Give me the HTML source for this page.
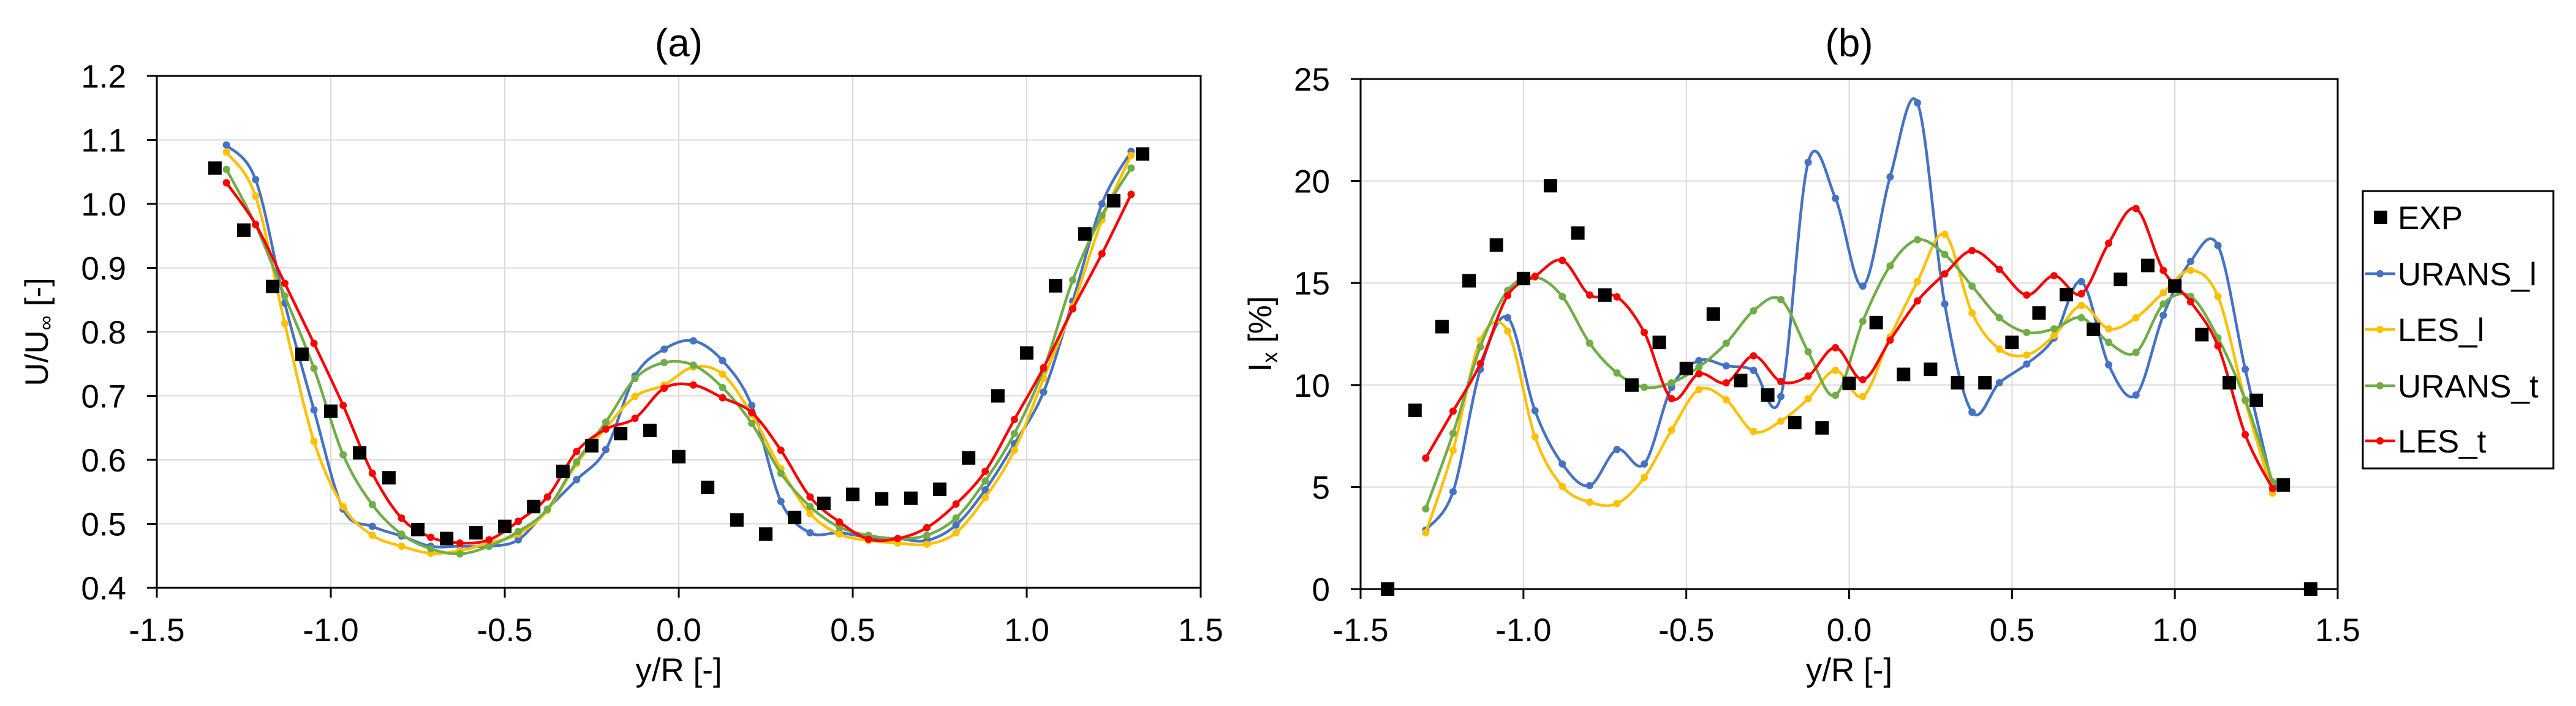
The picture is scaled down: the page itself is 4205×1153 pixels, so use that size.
<!DOCTYPE html>
<html><head><meta charset="utf-8"><style>
html,body{margin:0;padding:0;background:#fff}
svg{display:block;font-family:"Liberation Sans",Arial,sans-serif}
</style></head><body>
<svg id="chart" xmlns="http://www.w3.org/2000/svg" width="4205" height="1153" viewBox="0 0 4205 1153">
<rect x="0" y="0" width="4205" height="1153" fill="#fff"/>
</svg>
<script>
// shared x-grid for simulation series
const simX = Array.from({length:32},(_,i)=>-1.3+i*2.6/31);
const expXa = [-1.333,-1.25,-1.167,-1.083,-1.0,-0.917,-0.833,-0.75,-0.667,-0.583,-0.5,-0.417,-0.333,-0.25,-0.167,-0.083,0,0.083,0.167,0.25,0.333,0.417,0.5,0.583,0.667,0.75,0.833,0.917,1.0,1.083,1.167,1.25,1.333];
const expYa = [1.056,0.959,0.871,0.765,0.676,0.611,0.572,0.491,0.477,0.486,0.496,0.527,0.582,0.622,0.641,0.646,0.605,0.557,0.506,0.484,0.510,0.532,0.546,0.539,0.540,0.554,0.603,0.700,0.767,0.872,0.953,1.005,1.078];
const uransLa = [1.092,1.038,0.845,0.678,0.523,0.496,0.481,0.465,0.465,0.465,0.475,0.523,0.569,0.616,0.731,0.773,0.786,0.755,0.685,0.535,0.486,0.486,0.479,0.477,0.474,0.498,0.553,0.625,0.706,0.848,1.000,1.082];
const lesLa = [1.081,1.012,0.813,0.629,0.527,0.482,0.465,0.454,0.458,0.470,0.484,0.521,0.594,0.650,0.699,0.717,0.745,0.734,0.671,0.586,0.516,0.484,0.474,0.470,0.468,0.486,0.541,0.615,0.727,0.840,0.975,1.076];
const uransTa = [1.054,0.967,0.856,0.743,0.608,0.530,0.484,0.461,0.453,0.465,0.488,0.523,0.597,0.659,0.727,0.752,0.748,0.713,0.657,0.579,0.527,0.495,0.482,0.477,0.482,0.509,0.567,0.641,0.741,0.881,0.982,1.056];
const lesTa = [1.033,0.968,0.876,0.782,0.685,0.579,0.509,0.479,0.470,0.475,0.504,0.542,0.613,0.648,0.665,0.712,0.717,0.697,0.674,0.615,0.542,0.503,0.476,0.477,0.494,0.531,0.582,0.663,0.744,0.836,0.922,1.015];

const expXb = [-1.417,-1.333,-1.25,-1.167,-1.083,-1.0,-0.917,-0.833,-0.75,-0.667,-0.583,-0.5,-0.417,-0.333,-0.25,-0.167,-0.083,0,0.083,0.167,0.25,0.333,0.417,0.5,0.583,0.667,0.75,0.833,0.917,1.0,1.083,1.167,1.25,1.333,1.417];
const expYb = [0,8.76,12.86,15.11,16.86,15.22,19.77,17.45,14.41,10.0,12.09,10.81,13.48,10.22,9.51,8.16,7.90,10.08,13.06,10.52,10.77,10.11,10.11,12.09,13.53,14.43,12.73,15.18,15.86,14.85,12.47,10.11,9.25,5.10,0];
const uransLb = [2.89,4.77,10.77,13.3,8.74,6.13,5.07,6.84,6.13,9.89,11.2,10.94,10.72,9.44,20.92,19.15,14.85,20.2,23.83,13.97,8.67,10.11,11.03,12.31,15.07,10.99,9.51,13.42,16.06,16.84,10.77,5.03];
const lesLb = [2.76,6.8,12.2,12.64,7.46,5.03,4.26,4.19,5.47,7.79,9.77,9.27,7.72,8.23,9.33,10.72,9.44,12.36,15.07,17.39,13.53,11.76,11.47,12.42,13.9,12.75,13.3,14.52,15.62,14.34,9.22,4.7];
const uransTb = [3.93,7.63,11.87,14.63,15.29,14.34,12.05,10.59,9.89,10.11,10.88,12.05,13.64,14.19,11.63,9.49,13.13,15.84,17.12,16.4,14.85,13.3,12.58,12.75,13.3,12.09,11.6,13.97,14.34,12.31,9.27,5.25];
const lesTb = [6.42,8.72,11.05,14.39,15.33,16.11,14.41,14.32,12.58,9.33,10.55,10.11,11.43,10.17,10.44,11.83,10.26,12.2,14.12,15.45,16.59,15.67,14.41,15.36,14.47,16.95,18.65,15.62,14.08,11.92,7.57,4.92];

const xTicks = [-1.5,-1.0,-0.5,0.0,0.5,1.0,1.5];
const yTicksA = [0.4,0.5,0.6,0.7,0.8,0.9,1.0,1.1,1.2];
const yTicksB = [0,5,10,15,20,25];
const seriesNames = ["URANS_l","LES_l","URANS_t","LES_t"];
const seriesColors = ["#4472C4","#FFC000","#70AD47","#FF0000"];

const NS="http://www.w3.org/2000/svg";
const svg=document.getElementById('chart');
function mk(tag,attrs,parent){const e=document.createElementNS(NS,tag);for(const k in attrs)e.setAttribute(k,attrs[k]);(parent||svg).appendChild(e);return e;}
function txt(s,attrs,parent){const e=mk('text',attrs,parent);e.textContent=s;return e;}
function spline(pts){
  let d=`M${pts[0][0]},${pts[0][1]}`;
  for(let i=0;i<pts.length-1;i++){
    const p0=pts[Math.max(i-1,0)],p1=pts[i],p2=pts[i+1],p3=pts[Math.min(i+2,pts.length-1)];
    const t=0.5/3*2*0.5;
    const c1=[p1[0]+(p2[0]-p0[0])/6,p1[1]+(p2[1]-p0[1])/6];
    const c2=[p2[0]-(p3[0]-p1[0])/6,p2[1]-(p3[1]-p1[1])/6];
    d+=` C${c1[0]},${c1[1]} ${c2[0]},${c2[1]} ${p2[0]},${p2[1]}`;
  }
  return d;
}
function panel(o){
  const g=mk('g',{});
  
  
  const sx=v=>o.L+(v-(-1.5))/3*(o.R-o.L);
  const sy=v=>o.B-(v-o.ymin)/(o.ymax-o.ymin)*(o.B-o.T);
  // grid
  xTicks.forEach(v=>{ if(v>-1.5&&v<1.5){const l=mk('line',{x1:sx(v),x2:sx(v),y1:o.T,y2:o.B,stroke:'#d9d9d9','stroke-width':2},g);}});
  o.yt.forEach(v=>{ if(v>o.ymin&&v<o.ymax){const l=mk('line',{x1:o.L,x2:o.R,y1:sy(v),y2:sy(v),stroke:'#d9d9d9','stroke-width':2},g);}});
  // frame
  const fr=mk('rect',{x:o.L,y:o.T,width:o.R-o.L,height:o.B-o.T,fill:'none',stroke:'#000','stroke-width':3},g);
  
  // ticks + labels
  xTicks.forEach(v=>{
    mk('line',{x1:sx(v),x2:sx(v),y1:o.B,y2:o.B+16,stroke:'#000','stroke-width':3},g);
    const t=txt(v.toFixed(1),{x:sx(v),y:1047,'font-size':53,'text-anchor':'middle',fill:'#000'},g);
    
  });
  o.yt.forEach(v=>{
    mk('line',{x1:o.L-16,x2:o.L,y1:sy(v),y2:sy(v),stroke:'#000','stroke-width':3},g);
    const t=txt(o.fmt(v),{x:o.L-50,y:sy(v)+19,'font-size':53,'text-anchor':'end',fill:'#000'},g);
    
  });
  // titles
  const ti=txt(o.title,{x:(o.L+o.R)/2,y:92,'font-size':64,'text-anchor':'middle',fill:'#000'},g);
  
  const xt=txt('y/R [-]',{x:(o.L+o.R)/2,y:1112,'font-size':53,'text-anchor':'middle',fill:'#000'},g);
  
  const yt=mk('text',{x:0,y:0,'font-size':53,'text-anchor':'middle',fill:'#000',transform:`translate(${o.ytx},${(o.T+o.B)/2}) rotate(-90)`},g);
  yt.innerHTML=o.ylabel;
  
  // series
  o.series.forEach((ys,k)=>{
    const sg=mk('g',{},g);
    
    
    const pts=simX.map((x,i)=>[sx(x),sy(ys[i])]);
    mk('path',{d:spline(pts),fill:'none',stroke:seriesColors[k],'stroke-width':4.5},sg);
    pts.forEach(p=>{const c=mk('circle',{cx:p[0],cy:p[1],r:6,fill:seriesColors[k]},sg);});
  });
  const eg=mk('g',{},g);
  
  o.ex.forEach((x,i)=>{const r=mk('rect',{x:sx(x)-11,y:sy(o.ey[i])-11,width:22,height:22,fill:'#000'},eg);});
}
panel({name:'panel-a',L:256,R:1960,T:124,B:960,ymin:0.4,ymax:1.2,yt:yTicksA,fmt:v=>v.toFixed(1),title:'(a)',ytx:78,
  ylabel:'U/U<tspan font-size="34" dy="8">∞</tspan><tspan dy="-8"> [-]</tspan>',series:[uransLa,lesLa,uransTa,lesTa],ex:expXa,ey:expYa});
panel({name:'panel-b',L:2221,R:3816,T:129,B:962,ymin:0,ymax:25,yt:yTicksB,fmt:v=>String(v),title:'(b)',ytx:2075,
  ylabel:'I<tspan font-size="36" dy="10">x</tspan><tspan dy="-10"> [%]</tspan>',series:[uransLb,lesLb,uransTb,lesTb],ex:expXb,ey:expYb});
// legend
const lg=mk('g',{});

mk('rect',{x:3857,y:312,width:311,height:453,fill:'#fff',stroke:'#000','stroke-width':3},lg);
const ly=[355,447,538,630,720];
const labels=['EXP'].concat(seriesNames);
labels.forEach((s,i)=>{
  const e=mk('g',{},lg);
  
  if(i===0){mk('rect',{x:3875,y:ly[i]-11,width:22,height:22,fill:'#000'},e);}
  else{mk('line',{x1:3861,x2:3910,y1:ly[i],y2:ly[i],stroke:seriesColors[i-1],'stroke-width':4.5},e);mk('circle',{cx:3885,cy:ly[i],r:6,fill:seriesColors[i-1]},e);}
  txt(s,{x:3914,y:ly[i]+19,'font-size':53,fill:'#000'},e);
});
</script>
</body></html>
